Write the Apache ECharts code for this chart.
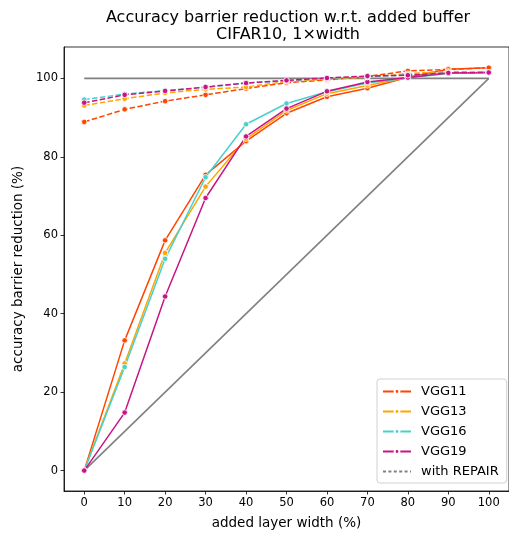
<!DOCTYPE html>
<html>
<head>
<meta charset="utf-8">
<script src="https://cdn.jsdelivr.net/npm/echarts@6/dist/echarts.min.js"></script>
<style>
  html, body { margin: 0; padding: 0; background: #fff; }
  #chart { width: 509px; height: 539px; }
</style>
</head>
<body>
<div id="chart"></div>
<script>
// added layer width (%)
const widths = [0, 10, 20, 30, 40, 50, 60, 70, 80, 90, 100];
const xTicks = [0, 10, 20, 30, 40, 50, 60, 70, 80, 90, 100];
const yTicks = [0, 20, 40, 60, 80, 100];

const models = ['VGG11', 'VGG13', 'VGG16', 'VGG19'];
const colors = ['#FF4500', '#FFA500', '#48D1CC', '#C71585'];

// plain buffer
const vgg11 = [0, 33.2, 58.7, 75.4, 84.0, 91.1, 95.3, 97.5, 100.3, 102.3, 102.7];
const vgg13 = [0, 27.3, 55.5, 72.4, 84.6, 91.8, 96.1, 98.2, 100.2, 101.3, 101.5];
const vgg16 = [0, 26.4, 54.0, 74.8, 88.3, 93.6, 96.6, 98.8, 100.1, 101.3, 101.5];
const vgg19 = [0, 14.8, 44.4, 69.5, 85.2, 92.3, 96.7, 99.1, 100.2, 101.4, 101.5];

// with REPAIR
const vgg11Repair = [88.9, 92.1, 94.2, 95.8, 97.4, 98.9, 99.6, 100.5, 101.9, 102.3, 102.7];
const vgg13Repair = [93.1, 94.8, 96.3, 97.2, 97.8, 99.2, 99.8, 100.3, 101.2, 101.8, 101.5];
const vgg16Repair = [94.6, 96.0, 96.9, 97.7, 98.8, 99.4, 100.0, 100.4, 100.9, 101.4, 101.5];
const vgg19Repair = [93.8, 95.8, 96.8, 97.8, 98.8, 99.5, 100.1, 100.6, 100.8, 101.4, 101.5];

// reference lines
const refFlat = [[0, 100], [100, 100]];
const refDiag = [[0, 0], [100, 100]];

const plain = [vgg11, vgg13, vgg16, vgg19];
const repair = [vgg11Repair, vgg13Repair, vgg16Repair, vgg19Repair];

const font = 'DejaVu Sans';
const zip = (arr) => widths.map((w, i) => [w, arr[i]]);

const series = [
  {
    name: 'ref1', type: 'line', data: refFlat, symbol: 'none', silent: true,
    lineStyle: { color: '#808080', width: 1.6 }, z: 1,
  },
  {
    name: 'ref2', type: 'line', data: refDiag, symbol: 'none', silent: true,
    lineStyle: { color: '#808080', width: 1.6 }, z: 1,
  },
];

models.forEach((m, i) => {
  series.push({
    name: m,
    type: 'line',
    data: zip(plain[i]),
    symbol: 'circle',
    symbolSize: 5.5,
    itemStyle: { color: colors[i], borderColor: '#fff', borderWidth: 0.8 },
    lineStyle: { color: colors[i], width: 1.5 },
    z: 2,
  });
});
models.forEach((m, i) => {
  series.push({
    name: m + ' REPAIR',
    type: 'line',
    data: zip(repair[i]),
    symbol: 'circle',
    symbolSize: 5.5,
    itemStyle: { color: colors[i], borderColor: '#fff', borderWidth: 0.8 },
    lineStyle: { color: colors[i], width: 1.5, type: [5.5, 2.4] },
    z: 2,
  });
});
// legend-only entry
series.push({
  name: 'with REPAIR',
  type: 'line',
  data: [],
  symbol: 'none',
  itemStyle: { color: '#808080' },
  lineStyle: { color: '#808080', width: 1.5, type: [3, 2.4] },
});

const chart = echarts.init(document.getElementById('chart'));
chart.setOption({
  animation: false,
  textStyle: { fontFamily: font },
  graphic: [
    {
      type: 'text', x: 288, y: 9,
      style: {
        text: 'Accuracy barrier reduction w.r.t. added buffer\nCIFAR10, 1×width',
        font: '16px "DejaVu Sans"', fill: '#000', align: 'center', lineHeight: 17,
      },
    },
  ],
  grid: { left: 64, top: 47, right: -3, bottom: 48, show: true, borderColor: '#000', borderWidth: 0.8 },
  legend: {
    data: [
      'VGG11', 'VGG13', 'VGG16', 'VGG19',
      { name: 'with REPAIR', itemStyle: { color: 'rgba(0,0,0,0)', borderWidth: 0 } },
    ],
    orient: 'vertical',
    left: 377,
    top: 379,
    itemWidth: 28,
    itemHeight: 6,
    itemGap: 7,
    padding: [6, 8, 5, 5],
    borderColor: '#d0d0d0',
    borderWidth: 1,
    borderRadius: 3,
    backgroundColor: 'rgba(255,255,255,0.8)',
    textStyle: { fontFamily: font, fontSize: 13, color: '#000', padding: [0, 0, 0, 5] },
  },
  xAxis: {
    type: 'value',
    min: -5,
    max: 105,
    name: 'added layer width (%)',
    nameLocation: 'middle',
    nameGap: 25,
    nameTextStyle: { fontFamily: font, fontSize: 13.5, color: '#000' },
    splitLine: { show: false },
    axisLine: { onZero: false, lineStyle: { color: '#000', width: 0.8 } },
    axisTick: { show: true, length: 3.5, lineStyle: { color: '#000', width: 0.8 }, customValues: xTicks },
    axisLabel: { color: '#000', fontSize: 11.5, margin: 6, customValues: xTicks },
  },
  yAxis: {
    type: 'value',
    min: -5.2,
    max: 108,
    name: 'accuracy barrier reduction (%)',
    nameLocation: 'middle',
    nameGap: 38,
    nameTextStyle: { fontFamily: font, fontSize: 13.5, color: '#000' },
    splitLine: { show: false },
    axisLine: { show: true, onZero: false, lineStyle: { color: '#000', width: 0.8 } },
    axisTick: { show: true, length: 3.5, lineStyle: { color: '#000', width: 0.8 }, customValues: yTicks },
    axisLabel: { color: '#000', fontSize: 11.5, margin: 6, customValues: yTicks },
  },
  series: series,
});
</script>
</body>
</html>
